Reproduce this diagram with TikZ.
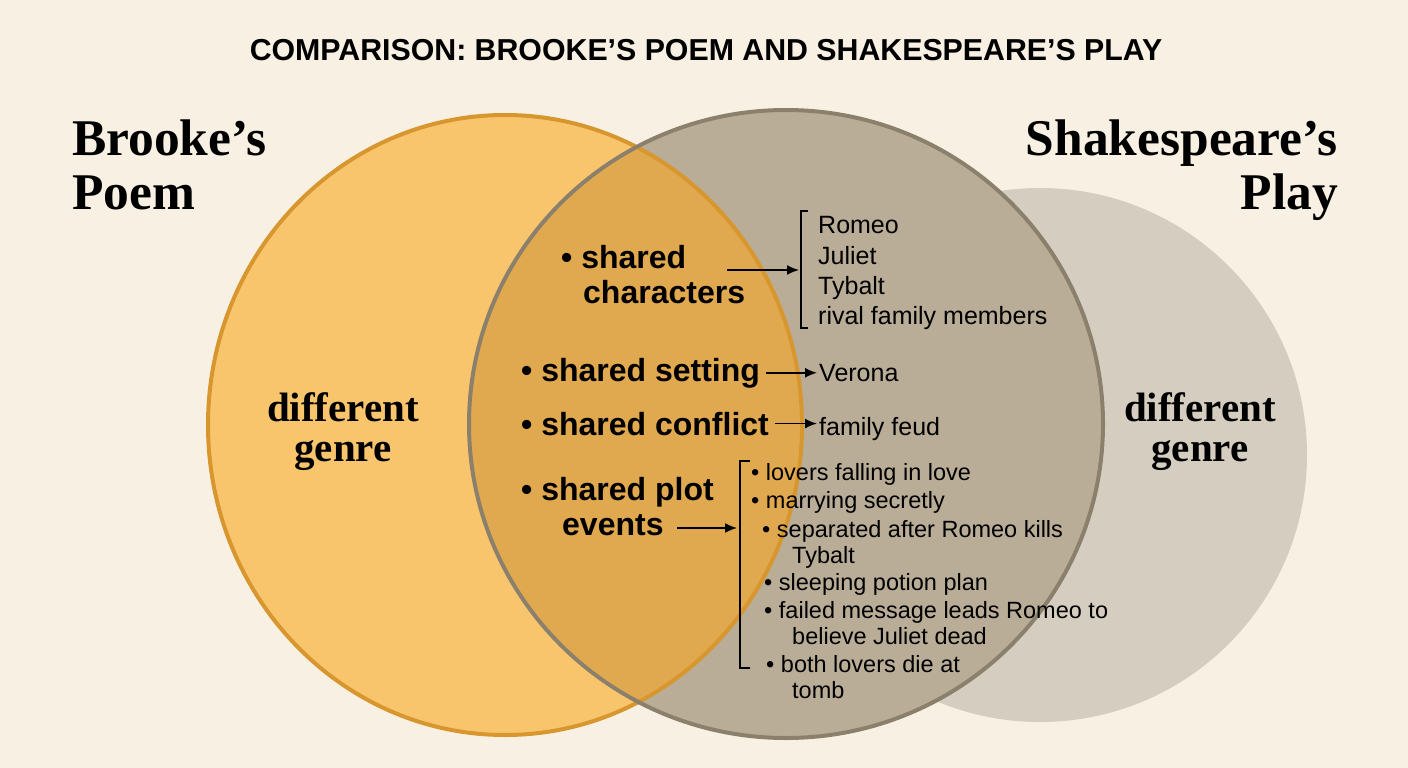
\documentclass[tikz,border=0pt]{standalone}
\usepackage{fontspec}
\setmainfont{Liberation Serif}
\newfontfamily\sansfont{Liberation Sans}
\usepackage{xcolor}
\usepackage{tikz}
\usetikzlibrary{arrows.meta}
\usetikzlibrary{positioning}

\definecolor{paper}{HTML}{F8F1E3}
\definecolor{poemfill}{HTML}{F8C56C}
\definecolor{poemline}{HTML}{D8962E}
\definecolor{bothfill}{HTML}{E1A94F}
\definecolor{playfill}{HTML}{B9AD97}
\definecolor{playline}{HTML}{8B806C}
\definecolor{genrefill}{HTML}{D5CEC0}

\tikzset{
	heading/.style={inner sep=0, font=\bfseries\fontsize{51.5}{52}\selectfont},
	genre/.style={inner sep=0, anchor=base, font=\bfseries\fontsize{41}{41}\selectfont},
	topic/.style={inner sep=0, anchor=base west, font=\sansfont\bfseries\fontsize{32}{32}\selectfont},
	detail/.style={inner sep=0, anchor=base west, font=\sansfont\fontsize{25}{25}\selectfont},
	event/.style={inner sep=0, anchor=base west, font=\sansfont\fontsize{23.5}{23.5}\selectfont},
	link/.style={-{Latex[length=12pt,width=10pt]}, line width=1.6pt},
	brace/.style={line width=1.6pt},
}

\begin{document}
\begin{tikzpicture}[x=1pt, y=-1pt]

	\fill[paper] (0,0) rectangle (1408,768);
	\useasboundingbox (0,0) rectangle (1408,768);

	% the three circles
	\fill[genrefill] (1040,455) ellipse [x radius=267pt, y radius=267pt];
	\fill[poemfill] (505,425) ellipse [x radius=297pt, y radius=310pt];
	\fill[playfill] (786,424) ellipse [x radius=317pt, y radius=314pt];
	\begin{scope}
		\clip (505,425) ellipse [x radius=297pt, y radius=310pt];
		\fill[bothfill] (786,424) ellipse [x radius=317pt, y radius=314pt];
	\end{scope}
	\draw[poemline, line width=4pt] (505,425) ellipse [x radius=297pt, y radius=310pt];
	\draw[playline, line width=4pt] (786,424) ellipse [x radius=317pt, y radius=314pt];

	% headings
	\node[inner sep=0, anchor=base, font=\sansfont\bfseries\fontsize{30.3}{31}\selectfont] (title) at (706,61) {COMPARISON: BROOKE’S POEM AND SHAKESPEARE’S PLAY};
	\node[heading, anchor=base west] (brooke) at (72,155) {Brooke’s};
	\node[heading, anchor=base west] (poem) at (72,209) {Poem};
	\node[heading, anchor=base east] (shakes) at (1338,155) {Shakespeare’s};
	\node[heading, anchor=base east] (play) at (1338,209) {Play};

	\node[genre] (lgenre1) at (343,421) {different};
	\node[genre] (lgenre2) at (343,461) {genre};
	\node[genre] (rgenre1) at (1200,421) {different};
	\node[genre] (rgenre2) at (1200,461) {genre};

	% characters
	\node[topic] (chars1) at (561,268) {• shared};
	\node[topic] (chars2) at (583,303) {characters};
	\node[detail] (romeo) at (818,233) {Romeo};
	\node[detail] (juliet) at (818,264) {Juliet};
	\node[detail] (tybalt) at (818,294) {Tybalt};
	\node[detail] (rivals) at (818,324) {rival family members};
	\coordinate (charfrom) at (727,270);
	\coordinate (chartop) at (801,211);
	\coordinate (charbot) at (801,328);
	\draw[brace] ([xshift=7pt]chartop) -- (chartop) -- (charbot) -- ([xshift=7pt]charbot);
	\draw[link, shorten >=2pt] (charfrom) -- (charfrom -| chartop);

	% setting and conflict
	\node[topic] (setting) at (521,381) {• shared setting};
	\node[detail] (verona) at (819,381) {Verona};
	\draw[link, shorten <=6pt, shorten >=2pt] (setting.east) -- (setting.east -| verona.west);
	\node[topic] (conflict) at (521,435) {• shared conflict};
	\node[detail] (feud) at (819,435) {family feud};
	\draw[link, shorten <=6pt, shorten >=2pt] (conflict.east) -- (conflict.east -| feud.west);

	% plot events
	\node[topic] (plot1) at (521,500) {• shared plot};
	\node[topic] (plot2) at (562,535) {events};
	\coordinate (plotfrom) at (677,528);
	\coordinate (plottop) at (740,461);
	\coordinate (plotbot) at (740,668);
	\draw[brace] ([xshift=10pt]plottop) -- (plottop) -- (plotbot) -- ([xshift=10pt]plotbot);
	\draw[link, shorten >=3pt] (plotfrom) -- (plotfrom -| plottop);

	\node[event] (ev1) at (751,480) {• lovers falling in love};
	\node[event] (ev2) at (751,508) {• marrying secretly};
	\node[event] (ev3) at (762,537) {• separated after Romeo kills};
	\node[event] (ev3b) at (792,563) {Tybalt};
	\node[event] (ev4) at (764,590) {• sleeping potion plan};
	\node[event] (ev5) at (764,618) {• failed message leads Romeo to};
	\node[event] (ev5b) at (792,644) {believe Juliet dead};
	\node[event] (ev6) at (766,672) {• both lovers die at};
	\node[event] (ev6b) at (792,698) {tomb};

\end{tikzpicture}
\end{document}
